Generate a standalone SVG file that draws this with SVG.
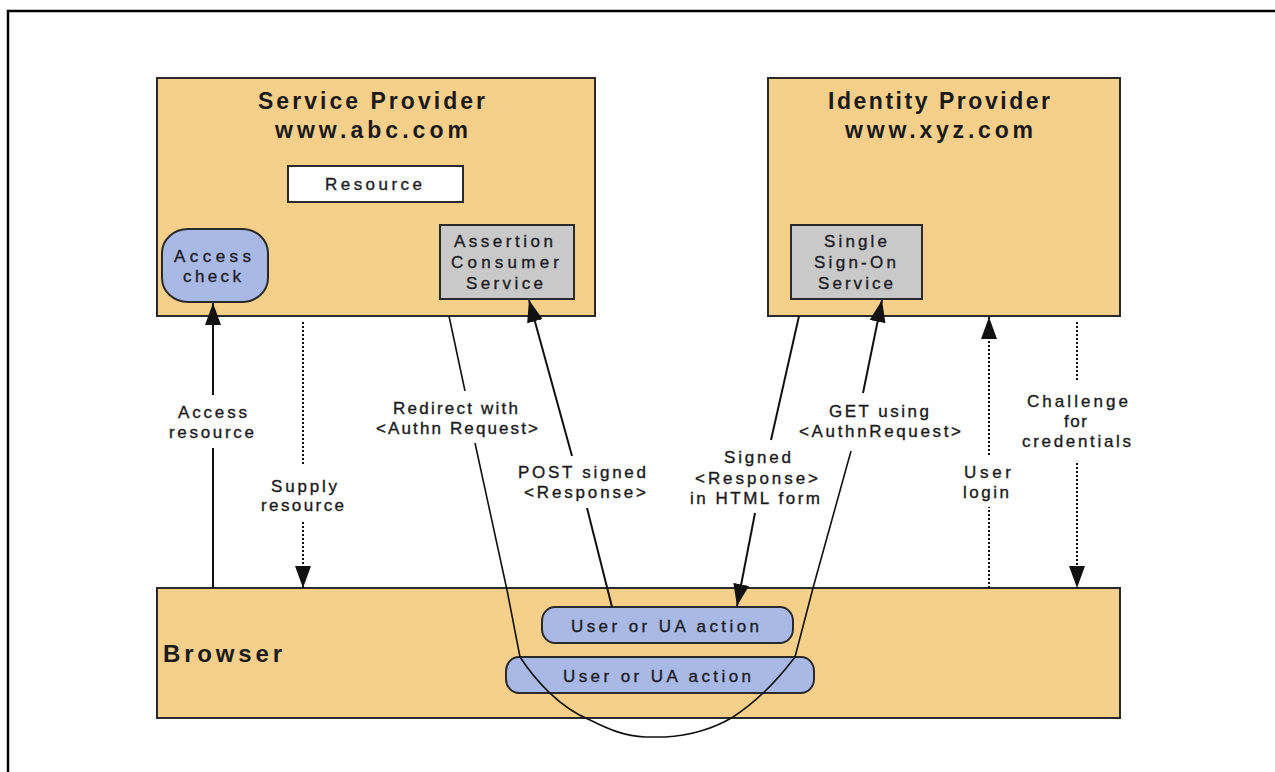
<svg xmlns="http://www.w3.org/2000/svg" width="1275" height="772" viewBox="0 0 1275 772">
<style>
.box{fill:#F6D08B;stroke:#2a2a2a;stroke-width:2}
.blue{fill:#A9B9E6;stroke:#2a2a2a;stroke-width:2}
.gray{fill:#C9C9C9;stroke:#2a2a2a;stroke-width:2}
.white{fill:#ffffff;stroke:#2a2a2a;stroke-width:2}
.title{font-family:"Liberation Sans",Arial,sans-serif;font-weight:bold;font-size:23px;fill:#1a1a1a}
.t{font-family:"Liberation Sans",Arial,sans-serif;font-size:17px;fill:#1c1c24;stroke:#1c1c24;stroke-width:0.35}
.lbl{font-family:"Liberation Sans",Arial,sans-serif;font-size:17px;fill:#1a1a1a;stroke:#1a1a1a;stroke-width:0.35}
.solid{fill:none;stroke:#111;stroke-width:2}
.thin{fill:none;stroke:#111;stroke-width:1.6;stroke-linejoin:round}
.dot{fill:none;stroke:#111;stroke-width:2;stroke-dasharray:2 2}
</style>
<defs>
<marker id="ah" markerUnits="userSpaceOnUse" markerWidth="22" markerHeight="16" refX="22" refY="8" orient="auto">
<path d="M0,0 L22,8 L0,16 z" fill="#111"/>
</marker>
</defs>
<rect x="0" y="0" width="1275" height="772" fill="#ffffff"/>
<path d="M8,772 L8,11 L1275,11" fill="none" stroke="#000" stroke-width="2.5"/>

<g id="service-provider">
<rect class="box" x="157" y="78" width="438" height="238"/>
<text class="title" x="258" y="109" textLength="227" lengthAdjust="spacing">Service Provider</text>
<text class="title" x="275" y="138" textLength="193" lengthAdjust="spacing">www.abc.com</text>
</g>
<g id="resource">
<rect class="white" x="288" y="166" width="175" height="36"/>
<text class="t" x="325" y="190" textLength="97" lengthAdjust="spacing">Resource</text>
</g>
<g id="access-check">
<rect class="blue" x="162" y="229" width="106" height="73" rx="26" ry="24"/>
<text class="t" x="174" y="262" textLength="77" lengthAdjust="spacing">Access</text>
<text class="t" x="183" y="282" textLength="58" lengthAdjust="spacing">check</text>
</g>
<g id="acs">
<rect class="gray" x="440" y="225" width="134" height="74"/>
<text class="t" x="454" y="247" textLength="99" lengthAdjust="spacing">Assertion</text>
<text class="t" x="451" y="268" textLength="108" lengthAdjust="spacing">Consumer</text>
<text class="t" x="466" y="289" textLength="77" lengthAdjust="spacing">Service</text>
</g>

<g id="identity-provider">
<rect class="box" x="768" y="78" width="352" height="238"/>
<text class="title" x="828" y="109" textLength="222" lengthAdjust="spacing">Identity Provider</text>
<text class="title" x="845" y="138" textLength="188" lengthAdjust="spacing">www.xyz.com</text>
</g>
<g id="sso">
<rect class="gray" x="791" y="225" width="131" height="74"/>
<text class="t" x="824" y="247" textLength="63" lengthAdjust="spacing">Single</text>
<text class="t" x="814" y="268" textLength="82" lengthAdjust="spacing">Sign-On</text>
<text class="t" x="818" y="289" textLength="75" lengthAdjust="spacing">Service</text>
</g>

<g id="browser">
<rect class="box" x="157" y="588" width="963" height="130"/>
<text class="title" x="163" y="662" style="font-size:24px" textLength="119" lengthAdjust="spacing">Browser</text>
</g>
<g id="ua-action-1">
<rect class="blue" x="542" y="607" width="251" height="36" rx="13" ry="14"/>
<text class="t" x="571" y="632" textLength="188" lengthAdjust="spacing">User or UA action</text>
</g>
<g id="ua-action-2">
<rect class="blue" x="506" y="657" width="308" height="36" rx="13" ry="14"/>
<text class="t" x="563" y="682" textLength="188" lengthAdjust="spacing">User or UA action</text>
</g>

<g id="connectors">
<path class="solid" d="M213,588 L213,448"/>
<path class="solid" d="M213,395 L213,303" marker-end="url(#ah)"/>
<path class="dot" d="M303,322 L303,465"/>
<path class="dot" d="M303,522 L303,588" marker-end="url(#ah)"/>
<path class="thin" d="M449,316 L465,391"/>
<path class="thin" d="M475,443 L507,590 L520,657 C535,680 560,708 590,720 C610,730 625,736 645,737 L665,737 C690,736 715,728 733,717 C750,706 770,690 795,657 L813,588 L851,451"/>
<path class="solid" d="M863,393 L882,300" marker-end="url(#ah)"/>
<path class="solid" d="M612,607 L587,508"/>
<path class="solid" d="M572,456 L529,300" marker-end="url(#ah)"/>
<path class="solid" d="M799,316 L771,440"/>
<path class="solid" d="M755,513 L737,606" marker-end="url(#ah)"/>
<path class="dot" d="M989,588 L989,507"/>
<path class="dot" d="M989,455 L989,317" marker-end="url(#ah)"/>
<path class="dot" d="M1077,322 L1077,382"/>
<path class="dot" d="M1077,463 L1077,588" marker-end="url(#ah)"/>
</g>

<g id="labels">
<text class="lbl" x="178" y="418" textLength="69" lengthAdjust="spacing">Access</text>
<text class="lbl" x="169" y="438" textLength="85" lengthAdjust="spacing">resource</text>
<text class="lbl" x="271" y="492" textLength="66" lengthAdjust="spacing">Supply</text>
<text class="lbl" x="261" y="511" textLength="83" lengthAdjust="spacing">resource</text>
<text class="lbl" x="393" y="414" textLength="125" lengthAdjust="spacing">Redirect with</text>
<text class="lbl" x="376" y="434" textLength="162" lengthAdjust="spacing">&lt;Authn Request&gt;</text>
<text class="lbl" x="518" y="478" textLength="128" lengthAdjust="spacing">POST signed</text>
<text class="lbl" x="524" y="498" textLength="122" lengthAdjust="spacing">&lt;Response&gt;</text>
<text class="lbl" x="724" y="463" textLength="67" lengthAdjust="spacing">Signed</text>
<text class="lbl" x="695" y="484" textLength="123" lengthAdjust="spacing">&lt;Response&gt;</text>
<text class="lbl" x="690" y="504" textLength="130" lengthAdjust="spacing">in HTML form</text>
<text class="lbl" x="829" y="417" textLength="100" lengthAdjust="spacing">GET using</text>
<text class="lbl" x="799" y="437" textLength="162" lengthAdjust="spacing">&lt;AuthnRequest&gt;</text>
<text class="lbl" x="964" y="478" textLength="47" lengthAdjust="spacing">User</text>
<text class="lbl" x="963" y="498" textLength="46" lengthAdjust="spacing">login</text>
<text class="lbl" x="1027" y="407" textLength="101" lengthAdjust="spacing">Challenge</text>
<text class="lbl" x="1064" y="427" textLength="23" lengthAdjust="spacing">for</text>
<text class="lbl" x="1022" y="447" textLength="109" lengthAdjust="spacing">credentials</text>
</g>
</svg>
